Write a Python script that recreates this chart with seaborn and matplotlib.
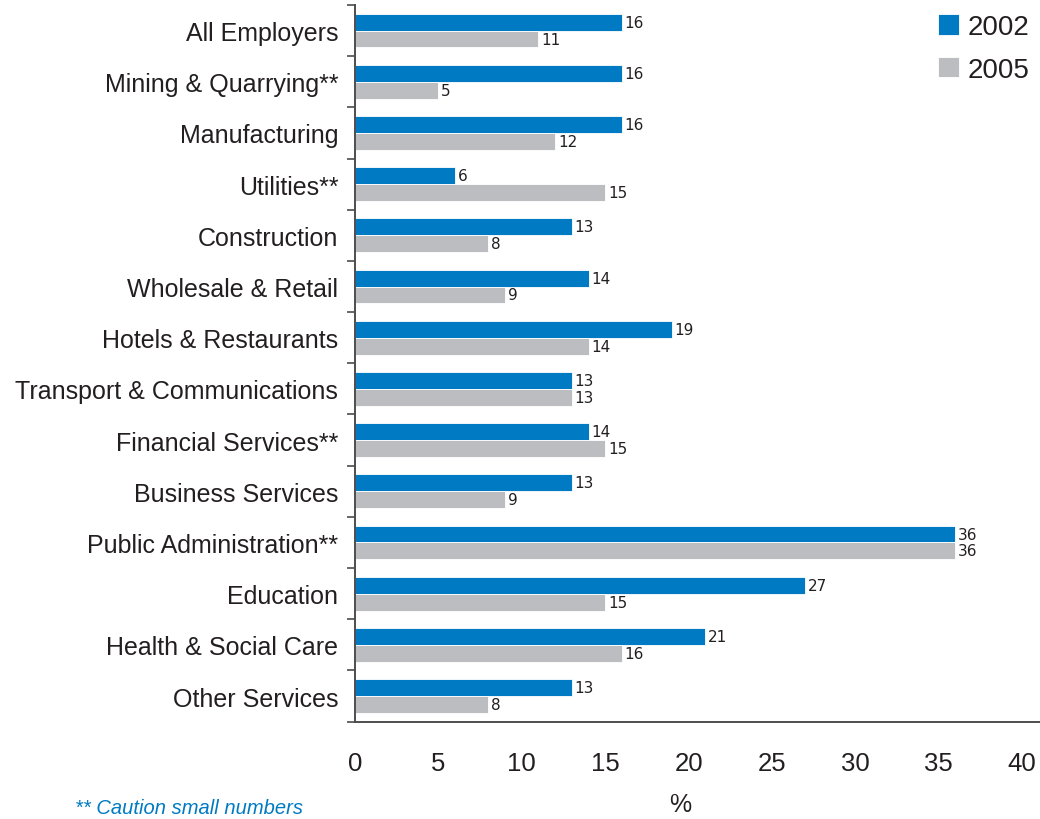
import matplotlib
matplotlib.use("Agg")
import matplotlib.pyplot as plt
from matplotlib import font_manager
from matplotlib.ticker import FixedLocator
import seaborn as sns
import pandas as pd
import numpy as np

# Share of employers by sector, 2002 vs 2005 (%)
sectors = [
    "All Employers", "Mining & Quarrying**", "Manufacturing", "Utilities**",
    "Construction", "Wholesale & Retail", "Hotels & Restaurants",
    "Transport & Communications", "Financial Services**", "Business Services",
    "Public Administration**", "Education", "Health & Social Care",
    "Other Services",
]
values_2002 = [16, 16, 16, 6, 13, 14, 19, 13, 14, 13, 36, 27, 21, 13]
values_2005 = [11, 5, 12, 15, 8, 9, 14, 13, 15, 9, 36, 15, 16, 8]
years = ["2002", "2005"]
x_ticks = [0, 5, 10, 15, 20, 25, 30, 35, 40]

BLUE = "#007AC2"
GREY = "#BCBDC1"
TEXT = "#231F20"
AXIS = "#4D4D4F"

sns.set_theme(style="white")
available = {f.name for f in font_manager.fontManager.ttflist}
base_font = "Liberation Sans" if "Liberation Sans" in available else "DejaVu Sans"
plt.rcParams["font.family"] = [base_font, "DejaVu Sans"]

df = pd.DataFrame({
    "sector": sectors * 2,
    "year": [years[0]] * len(sectors) + [years[1]] * len(sectors),
    "value": values_2002 + values_2005,
})

W, H = 1040, 820
fig = plt.figure(figsize=(W / 100, H / 100), dpi=100)
ax = fig.add_axes([355 / W, 1 - 722.6 / H, 685 / W, 716.6 / H])

sns.barplot(
    data=df, y="sector", x="value", hue="year", order=sectors,
    hue_order=years, palette=[BLUE, GREY], saturation=1, orient="h",
    width=0.66, dodge=True, errorbar=None, edgecolor="white",
    linewidth=0.6, ax=ax,
)

for cont in ax.containers:
    ax.bar_label(cont, fmt="%g", padding=2, fontsize=11, color=TEXT,
                 family="DejaVu Sans")

ax.set_xlim(0, 41.07)
ax.set_ylim(len(sectors) - 0.5, -0.5)
ax.set_xticks(x_ticks)
ax.set_xticklabels([str(t) for t in x_ticks], fontsize=18.5, color=TEXT)
ax.tick_params(axis="x", length=0, pad=21)
ax.set_xlabel("%", fontsize=18, color=TEXT)
ax.xaxis.set_label_coords((680 - 355) / 685, -0.098)
ax.set_ylabel("")

ax.tick_params(axis="y", which="major", length=0, pad=12, labelsize=18, labelcolor=TEXT)
ax.yaxis.set_minor_locator(FixedLocator(np.arange(-0.5, len(sectors), 1.0)))
ax.tick_params(axis="y", which="minor", left=True, length=6, width=1.2,
               color=AXIS, direction="out")

for side in ["top", "right"]:
    ax.spines[side].set_visible(False)
for side in ["left", "bottom"]:
    ax.spines[side].set_color(AXIS)
    ax.spines[side].set_linewidth(1.4)

handles, labels = ax.get_legend_handles_labels()
ax.legend(
    handles, labels, loc="upper left", bbox_to_anchor=(938 / W, 1 - 15 / H),
    bbox_transform=fig.transFigure, frameon=False, fontsize=20,
    borderpad=0, borderaxespad=0, handlelength=0.76, handleheight=0.76,
    handletextpad=0.32, labelspacing=0.6, labelcolor=TEXT,
)

fig.text(75 / W, 0.003, "** Caution small numbers", fontsize=14.5, style="italic",
         color=BLUE, ha="left", va="bottom")

fig.savefig("out.png", dpi=100)
